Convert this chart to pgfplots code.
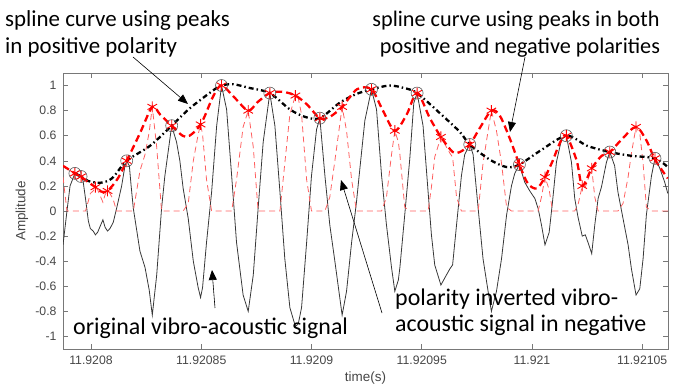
\documentclass[border=0pt]{standalone}
\usepackage{fontspec}
\setmainfont{Liberation Sans}
\newfontfamily\calib{Carlito}
\usepackage{pgfplots}
\usepackage{pgfplotstable}
\pgfplotsset{compat=1.18}
\usetikzlibrary{arrows.meta}
\definecolor{sig}{RGB}{55,55,55}
\definecolor{lightred}{RGB}{255,95,95}
\definecolor{axgray}{RGB}{120,120,120}
\definecolor{lblgray}{RGB}{70,70,70}

% x = (t - 11.9208 s) in microseconds
\pgfplotstableread{
x s
-12.7 -0.27
-10.9 0.00
-9.5 0.20
-7.3 0.30
-6.0 0.28
-4.5 0.275
-3.6 0.24
-2.5 0.10
-1.2 -0.08
-0.3 -0.14
1.0 -0.16
2.0 -0.19
3.0 -0.17
4.2 -0.12
5.4 -0.07
6.4 -0.13
7.5 -0.16
8.6 -0.14
10.1 -0.09
11.6 0.02
13.9 0.20
15.4 0.36
16.2 0.40
17.4 0.36
18.2 0.20
19.2 0.02
22.2 -0.32
24.5 -0.45
26.4 -0.63
27.8 -0.83
29.8 -0.51
32.0 0.02
33.5 0.28
36.6 0.68
37.6 0.62
38.8 0.55
40.3 0.40
41.8 0.18
44.1 -0.06
46.4 -0.40
48.6 -0.61
49.7 -0.69
50.6 -0.61
52.4 -0.25
54.7 0.15
57.0 0.68
59.2 1.00
61.5 0.81
63.8 0.28
66.0 -0.25
69.0 -0.67
71.3 -0.80
73.6 -0.51
75.8 0.02
78.1 0.55
81.1 0.94
83.4 0.68
85.7 0.15
87.9 -0.38
90.2 -0.77
92.7 -0.92
94.0 -0.90
95.5 -0.77
97.8 -0.25
100.0 0.28
102.3 0.65
103.8 0.74
106.1 0.28
108.3 -0.11
110.6 -0.40
113.9 -0.83
115.9 -0.64
118.2 -0.25
120.4 0.07
121.9 0.33
124.2 0.72
127.2 0.97
129.5 0.81
131.8 0.28
134.0 -0.11
136.3 -0.45
137.8 -0.64
139.4 -0.55
140.1 -0.45
142.3 -0.03
144.6 0.42
146.4 0.86
147.9 0.94
150.6 0.68
152.9 0.15
154.4 -0.19
155.9 -0.43
158.7 -0.59
161.2 -0.51
162.8 -0.46
164.0 -0.43
165.8 -0.11
168.0 0.28
169.5 0.45
171.8 0.53
173.3 0.45
175.6 0.02
177.8 -0.38
180.1 -0.64
181.6 -0.80
183.9 -0.64
186.2 -0.38
188.5 -0.03
190.7 0.20
192.2 0.30
194.3 0.37
196.7 0.23
199.0 0.16
201.3 0.10
202.8 0.02
204.3 -0.11
205.9 -0.27
207.8 -0.17
209.3 0.07
211.1 0.39
213.4 0.57
215.6 0.60
217.9 0.39
219.4 0.10
220.9 -0.05
222.8 -0.20
224.2 -0.19
225.6 -0.26
227.1 -0.34
228.5 -0.11
230.0 0.10
231.5 0.19
233.8 0.39
235.3 0.47
237.5 0.36
239.0 0.15
241.3 -0.06
243.6 -0.27
245.1 -0.46
247.2 -0.67
248.9 -0.62
250.4 -0.38
251.9 -0.03
254.2 0.28
255.8 0.42
258.0 0.34
260.2 0.23
261.6 0.14
}\signal

\pgfplotstableread{
x y
-7.3 0.30
-4.5 0.275
16.2 0.40
36.6 0.68
59.2 1.00
81.1 0.94
103.8 0.74
127.2 0.97
147.9 0.94
171.8 0.53
194.3 0.37
215.6 0.60
235.3 0.47
255.8 0.42
}\pospeaks

\pgfplotstableread{
x y
2.0 0.19
7.5 0.16
27.8 0.83
49.7 0.69
71.3 0.80
92.7 0.92
113.9 0.83
137.8 0.64
158.7 0.59
181.6 0.80
205.9 0.27
222.8 0.20
227.1 0.34
247.2 0.67
}\negpeaks

\pgfplotstableread{
x y
-7.3 0.30
-4.5 0.275
-1.4 0.24
4.1 0.225
9.5 0.26
16.2 0.40
26.8 0.52
36.6 0.68
44.9 0.82
55.3 0.96
59.2 1.00
64.6 1.01
72.1 0.98
81.1 0.94
90.2 0.81
97.1 0.75
103.8 0.74
112.6 0.86
120.0 0.93
127.2 0.97
135.3 1.00
142.1 0.98
147.9 0.94
158.2 0.78
167.3 0.63
171.8 0.53
180.8 0.41
188.5 0.35
194.3 0.37
203.7 0.48
215.6 0.60
225.0 0.52
235.3 0.47
245.0 0.44
255.8 0.42
261.6 0.35
}\posspline

\pgfplotstableread{
x y
-12.7 0.36
-7.3 0.30
-4.5 0.27
2.0 0.19
4.6 0.155
7.5 0.16
12.2 0.26
16.2 0.40
22.2 0.62
27.8 0.83
31.3 0.77
36.6 0.68
43.1 0.59
49.7 0.69
55.3 0.91
59.2 1.00
65.3 0.90
71.3 0.80
75.7 0.87
81.1 0.94
87.0 0.95
92.7 0.92
97.9 0.85
103.8 0.74
108.3 0.75
113.9 0.83
120.6 0.97
127.2 0.97
132.4 0.80
137.8 0.64
143.2 0.77
147.9 0.94
153.7 0.74
158.7 0.59
164.1 0.47
167.3 0.47
171.8 0.53
176.3 0.66
181.6 0.80
185.4 0.76
189.9 0.58
194.3 0.37
198.1 0.22
202.2 0.18
205.9 0.27
209.4 0.40
212.6 0.54
215.6 0.60
220.3 0.40
222.8 0.20
227.1 0.34
231.6 0.44
235.3 0.47
241.2 0.58
247.2 0.67
252.0 0.56
255.8 0.41
261.6 0.26
}\bothspline

\begin{document}
\begin{tikzpicture}
\useasboundingbox (0,0) rectangle (684bp,385bp);
\begin{axis}[
  scale only axis, width=605bp, height=276bp,
  at={(63bp,36bp)}, anchor=south west,
  xmin=-12.7, xmax=261.7, ymin=-1.1, ymax=1.1,
  axis line style={axgray, line width=0.6pt},
  tick style={axgray, line width=0.6pt},
  major tick length=5bp, tick align=inside,
  xtick={0,50,100,150,200,250},
  xticklabels={11.9208,11.92085,11.9209,11.92095,11.921,11.92105},
  ytick={-1,-0.8,-0.6,-0.4,-0.2,0,0.2,0.4,0.6,0.8,1},
  yticklabels={-1,-0.8,-0.6,-0.4,-0.2,0,0.2,0.4,0.6,0.8,1},
  ticklabel style={font=\fontsize{12.3}{14}\selectfont, text=lblgray},
  yticklabel style={xshift=-3bp},
  xticklabel style={yshift=-3bp},
  xlabel={time(s)}, ylabel={Amplitude},
  label style={font=\fontsize{13.5}{15}\selectfont, text=lblgray},
  xlabel style={at={(axis description cs:0.5,-0.116)}, anchor=base},
  ylabel style={at={(axis description cs:-0.0678,0.5)}, anchor=center},
]
\addplot[sig, line width=0.8pt] table[x=x, y=s] {\signal};
\addplot[lightred, line width=0.8pt, dash pattern=on 6bp off 4bp] table[x=x, y expr={max(-\thisrow{s},0)}] {\signal};
\addplot[black, line width=2.3pt, dash pattern=on 5bp off 3bp on 1.5bp off 3bp, smooth, tension=0.5] table[x=x, y=y] {\posspline};
\addplot[red, line width=2.3pt, dash pattern=on 7bp off 4bp, smooth, tension=0.5] table[x=x, y=y] {\bothspline};
\addplot[only marks, mark=o, mark size=6bp, mark options={black!65, line width=0.6pt}] table[x=x, y=y] {\pospeaks};
\addplot[only marks, mark=asterisk, mark size=5.5bp, mark options={red, line width=0.9pt}] table[x=x, y=y] {\pospeaks};
\addplot[only marks, mark=asterisk, mark size=5.5bp, mark options={red, line width=0.9pt}] table[x=x, y=y] {\negpeaks};
\end{axis}
\begin{scope}[font=\calib\fontsize{23}{25}\selectfont]
\node[anchor=base west, inner sep=0] at (5bp,358bp) {spline curve using peaks};
\node[anchor=base west, inner sep=0] at (5bp,331bp) {in positive polarity};
\end{scope}
\begin{scope}[font=\calib\fontsize{22.3}{24}\selectfont]
\node[anchor=base, inner sep=0] at (516bp,358bp) {spline curve using peaks in both};
\node[anchor=base, inner sep=0] at (520bp,331bp) {positive and negative polarities};
\end{scope}
\begin{scope}[font=\calib\fontsize{24}{26}\selectfont]
\node[anchor=base west, inner sep=0] at (73bp,50bp) {original vibro-acoustic signal};
\node[anchor=base west, inner sep=0] at (395bp,79bp) {polarity inverted vibro-};
\node[anchor=base west, inner sep=0] at (395bp,53bp) {acoustic signal in negative};
\end{scope}
\begin{scope}[line width=0.6pt, -{Triangle[length=10bp,width=8bp]}]
\draw (133bp,328bp) -- (188bp,281bp);
\draw (525bp,328bp) -- (510bp,253bp);
\draw (215bp,77bp) -- (212bp,115bp);
\draw (382bp,72bp) -- (341bp,205bp);
\end{scope}
\end{tikzpicture}
\end{document}
